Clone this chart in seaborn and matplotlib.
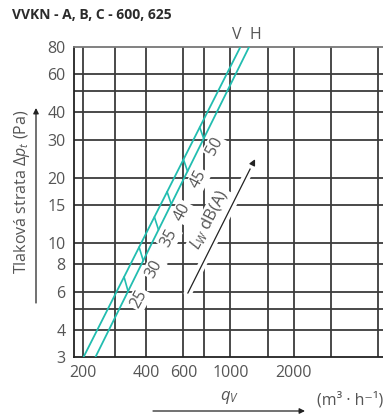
import numpy as np
import pandas as pd
import matplotlib
matplotlib.use("Agg")
import matplotlib.pyplot as plt
import matplotlib.patheffects as pe
from matplotlib.ticker import NullLocator
import seaborn as sns

# Pressure-loss characteristics, flow in m3/h and total pressure loss in Pa
pressure_ends = [3, 80]
flow_v = [202, 1115]
flow_h = [230, 1226]

# Sound power level marks joining the two characteristics
lw_levels = [25, 30, 35, 40, 45, 50]
lw_flow_v = [314, 370, 437, 502, 600, 716]
lw_flow_h = [328, 387, 457, 525, 627, 748]

x_ticks = [200, 400, 600, 1000, 2000]
x_grid = [200, 285, 400, 600, 750, 1000, 1500, 2000, 3000, 5000]
y_ticks = [3, 4, 6, 8, 10, 15, 20, 30, 40, 60, 80]
y_grid = [4, 5, 6, 8, 10, 15, 20, 30, 40, 50, 60]

TEAL = "#22bdb0"
GREY_TXT = "#555555"
GRID = "#3c3c3c"

sns.set_style("white")
plt.rcParams["font.family"] = ["Open Sans", "DejaVu Sans"]
plt.rcParams["mathtext.fontset"] = "custom"
plt.rcParams["mathtext.rm"] = "Open Sans"
plt.rcParams["mathtext.it"] = "Open Sans:italic"
plt.rcParams["mathtext.bf"] = "Open Sans:bold"

W, H = 383, 416
fig = plt.figure(figsize=(W / 100, H / 100), dpi=100)
ax = fig.add_axes([74 / W, 1 - 357 / H, 1 - 74 / W + 0.01, 310 / H])
ax.set_xscale("log")
ax.set_yscale("log")
ax.set_xlim(182, 5500)
ax.set_ylim(3, 80)

# grid
for x in x_grid:
    ax.axvline(x, color=GRID, lw=1.3, zorder=1)
for y in y_grid:
    ax.axhline(y, color=GRID, lw=1.3, zorder=1)

# characteristics
curves = pd.DataFrame({
    "flow": flow_v + flow_h,
    "pressure": pressure_ends * 2,
    "curve": ["V"] * 2 + ["H"] * 2,
})
sns.lineplot(data=curves, x="flow", y="pressure", units="curve",
             estimator=None, sort=False, color=TEAL, lw=1.3, ax=ax, zorder=3)


def on_curve(q, flows):
    return np.exp(np.interp(np.log(q), np.log(flows), np.log(pressure_ends)))


for lvl, qv, qh in zip(lw_levels, lw_flow_v, lw_flow_h):
    pv = on_curve(qv, flow_v)
    ph = on_curve(qh, flow_h)
    ax.plot([qv, qh], [pv, ph], color=TEAL, lw=1.2, zorder=3)
    ax.annotate(str(lvl), xy=(qh, ph), xytext=(11, -8), textcoords="offset pixels",
                rotation=62, ha="center", va="center", fontsize=11.5,
                color=GREY_TXT, zorder=4,
                bbox=dict(boxstyle="square,pad=0.1", fc="white", ec="none"))

ax.annotate("V", xy=(flow_v[1], pressure_ends[1]), xytext=(-4, 12),
            textcoords="offset pixels", ha="center", va="center",
            fontsize=11.5, color=GREY_TXT, annotation_clip=False)
ax.annotate("H", xy=(flow_h[1], pressure_ends[1]), xytext=(6, 12),
            textcoords="offset pixels", ha="center", va="center",
            fontsize=11.5, color=GREY_TXT, annotation_clip=False)

# sound level arrow
arr = ax.annotate("", xy=(1309, 24.4), xytext=(629, 5.9),
                  arrowprops=dict(arrowstyle="-|>", color="#222222", lw=0.9,
                                  mutation_scale=9, shrinkA=0, shrinkB=0), zorder=4)
arr.arrow_patch.set_path_effects([pe.Stroke(linewidth=6, foreground="white"), pe.Normal()])
ax.text(801, 12.8, r"$L_W$ dB(A)", rotation=63, ha="center", va="center",
        fontsize=12, color=GREY_TXT, zorder=4,
        bbox=dict(boxstyle="square,pad=0.1", fc="white", ec="none"))

# axes styling
ax.set_xticks(x_ticks)
ax.set_xticklabels([str(v) for v in x_ticks])
ax.set_yticks(y_ticks)
ax.set_yticklabels([str(v) for v in y_ticks])
ax.xaxis.set_minor_locator(NullLocator())
ax.yaxis.set_minor_locator(NullLocator())
ax.tick_params(axis="x", length=0, pad=6, labelsize=11.5, labelcolor=GREY_TXT)
ax.tick_params(axis="y", length=4, width=1.2, color=GRID, pad=2,
               labelsize=11.5, labelcolor=GREY_TXT)
ax.spines["right"].set_visible(False)
ax.spines["top"].set_color("#777777")
ax.spines["top"].set_linewidth(1.3)
ax.spines["left"].set_color("#222222")
ax.spines["bottom"].set_color("#222222")
ax.spines["left"].set_linewidth(1.3)
ax.spines["bottom"].set_linewidth(1.3)
ax.set_xlabel("")
ax.set_ylabel("")

# title and axis captions
fig.text(12 / W, 1 - 15 / H, "VVKN - A, B, C - 600, 625", ha="left", va="center",
         fontsize=10, fontweight="bold", color="#2b2b2b")
fig.text(22 / W, 1 - 192 / H, r"Tlaková strata $\mathit{\Delta p}_t$ (Pa)",
         rotation=90, ha="center", va="center", fontsize=11.5, color=GREY_TXT)
fig.text(230 / W, 1 - 398 / H, r"$q_V$", ha="center", va="center",
         fontsize=12, color=GREY_TXT)
fig.text(350 / W, 1 - 400 / H, "(m³ · h⁻¹)", ha="center", va="center",
         fontsize=11.5, color=GREY_TXT)

ax.annotate("", xy=(36, H - 108), xytext=(36, H - 303), xycoords="figure pixels",
            textcoords="figure pixels", annotation_clip=False,
            arrowprops=dict(arrowstyle="-|>", color="#222222", lw=0.9,
                            mutation_scale=8, shrinkA=0, shrinkB=0))
ax.annotate("", xy=(305, H - 411), xytext=(153, H - 411), xycoords="figure pixels",
            textcoords="figure pixels", annotation_clip=False,
            arrowprops=dict(arrowstyle="-|>", color="#222222", lw=0.9,
                            mutation_scale=8, shrinkA=0, shrinkB=0))

fig.savefig("out.png", dpi=100)
